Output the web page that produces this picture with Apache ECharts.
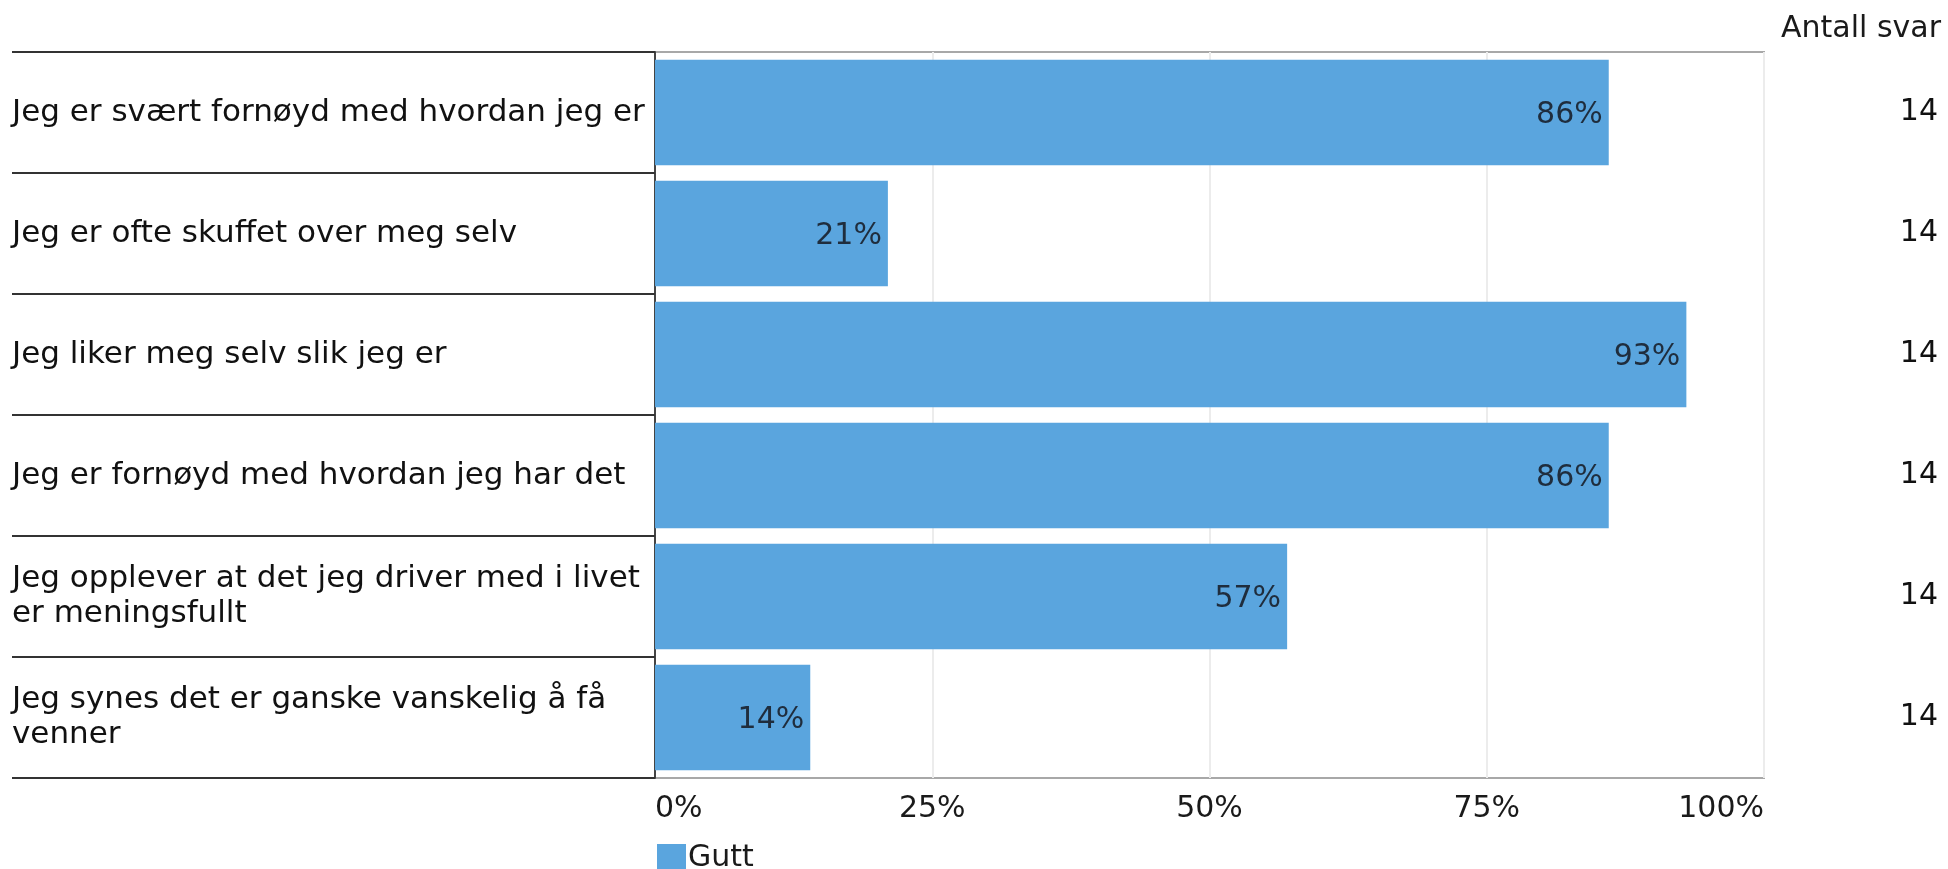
<!DOCTYPE html>
<html>
<head>
<meta charset="utf-8">
<script src="https://cdn.jsdelivr.net/npm/echarts@6/dist/echarts.min.js"></script>
<style>
html,body{margin:0;padding:0;background:#fff;}
#chart{width:1948px;height:869px;}
</style>
</head>
<body>
<div id="chart"></div>
<script>
const categories = [
  "Jeg er svært fornøyd med hvordan jeg er",
  "Jeg er ofte skuffet over meg selv",
  "Jeg liker meg selv slik jeg er",
  "Jeg er fornøyd med hvordan jeg har det",
  "Jeg opplever at det jeg driver med i livet\ner meningsfullt",
  "Jeg synes det er ganske vanskelig å få\nvenner"
];
const gutt = [86, 21, 93, 86, 57, 14];
const antallSvar = [14, 14, 14, 14, 14, 14];
const xTicks = [0, 25, 50, 75, 100];
const seriesName = "Gutt";
const countHeader = "Antall svar";

const FONT = "DejaVu Sans, Verdana, sans-serif";
const chart = echarts.init(document.getElementById('chart'), null, {renderer: 'canvas'});
chart.setOption({
  animation: false,
  textStyle: {fontFamily: FONT},
  title: {
    text: countHeader,
    right: 2, top: 9,
    textStyle: {fontFamily: FONT, fontSize: 30, fontWeight: 'normal', color: '#1a1a1a'}
  },
  legend: {
    data: [seriesName],
    left: 652, top: 838,
    itemWidth: 29, itemHeight: 28,
    icon: 'rect',
    textStyle: {fontFamily: FONT, fontSize: 30, color: '#1a1a1a', padding: [0,0,0,-3]}
  },
  grid: {
    left: 655, right: 184, top: 52, bottom: 91,
    show: true, borderColor: '#a8a8a8', borderWidth: 2, backgroundColor: 'transparent'
  },
  xAxis: {
    type: 'value', min: xTicks[0], max: xTicks[xTicks.length-1], interval: 25,
    axisLine: {show: false},
    axisTick: {show: false},
    splitLine: {show: true, lineStyle: {color: '#ececec', width: 2}},
    axisLabel: {
      formatter: v => v + '%', fontFamily: FONT, fontSize: 30, color: '#1a1a1a', margin: 16,
      alignMinLabel: 'left', alignMaxLabel: 'right'
    }
  },
  yAxis: [{
    type: 'category', data: categories, inverse: true,
    axisLine: {show: true, lineStyle: {color: '#444', width: 2}},
    axisTick: {show: true, length: 643, alignWithLabel: false, lineStyle: {color: '#333', width: 2}},
    axisLabel: {
      align: 'left', margin: 643, fontFamily: FONT, fontSize: 31, color: '#111', lineHeight: 35,
      padding: [14, 0, 0, 0]
    },
    splitLine: {show: false}
  }, {
    type: 'category', data: antallSvar, inverse: true, position: 'right',
    axisLine: {show: false}, axisTick: {show: false},
    axisLabel: {align: 'right', margin: 174, fontFamily: FONT, fontSize: 30, color: '#111',
      padding: [10, 0, 0, 0]}
  }],
  series: [{
    name: seriesName, type: 'bar', data: gutt, yAxisIndex: 0,
    barCategoryGap: '13%',
    itemStyle: {color: '#5aa5de'},
    label: {
      show: true, position: 'insideRight', distance: 6, offset: [0, 3],
      formatter: p => p.value + '%',
      fontFamily: FONT, fontSize: 30, color: '#1f2d3d'
    }
  }]
});
</script>
</body>
</html>
